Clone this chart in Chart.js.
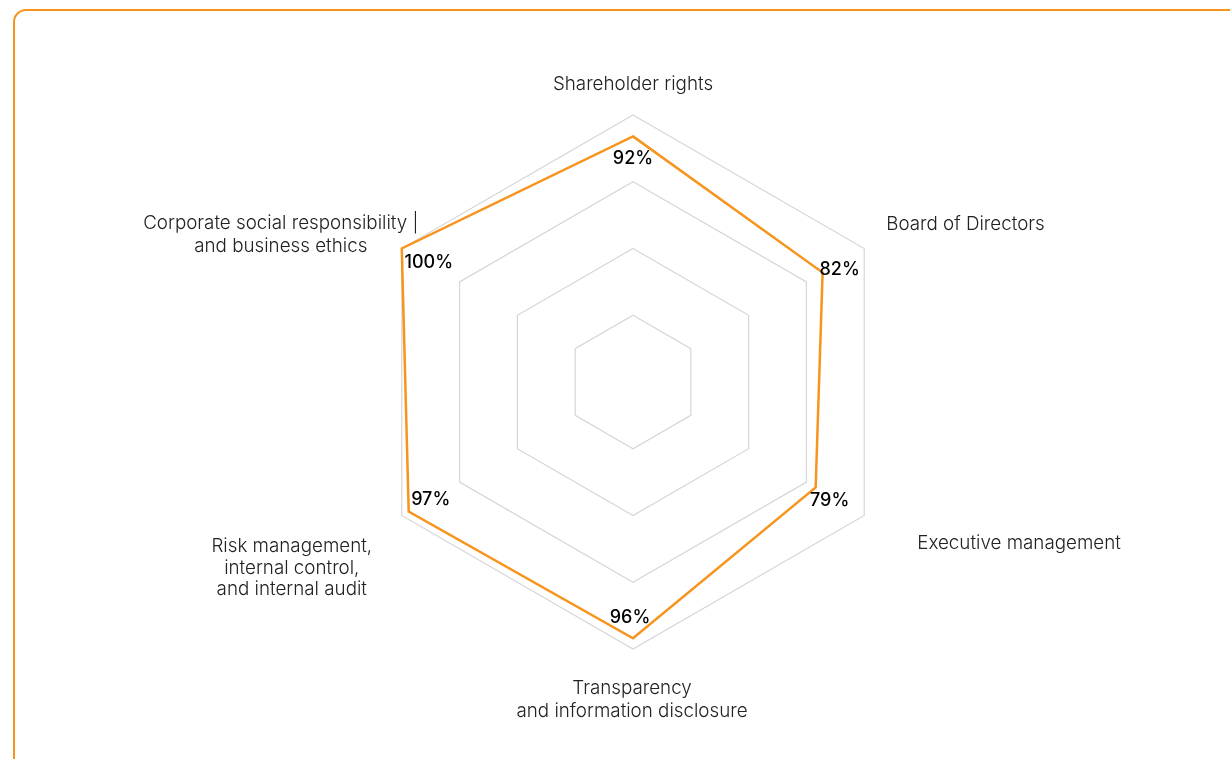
<!DOCTYPE html>
<html>
<head>
<meta charset="utf-8">
<script src="https://cdn.jsdelivr.net/npm/chart.js@4/dist/chart.umd.min.js"></script>
<style>
  html, body { margin: 0; padding: 0; background: #fff; overflow: hidden; }
  .frame {
    position: absolute; left: 13px; top: 9px;
    width: 1300px; height: 820px;
    border: 2px solid #f7941d; border-radius: 13px;
  }
  .wrap { position: absolute; left: 0; top: 0; width: 1230px; height: 759px; }
</style>
</head>
<body>
<div class="frame"></div>
<div class="wrap"><canvas id="radarGraph"></canvas></div>
<script>
/* Corporate governance assessment radar */

const categories = [
  ['Shareholder rights'],
  ['Board of Directors'],
  ['Executive management'],
  ['Transparency', 'and information disclosure'],
  ['Risk management,', 'internal control,', 'and internal audit'],
  ['Corporate social responsibility |', 'and business ethics']
];
const scores = [92, 82, 79, 96, 97, 100];
const scaleTicks = [0, 25, 50, 75, 100];

// Label placement relative to the outer vertex / data point of each axis
const axisLabelStyle = [
  { align: 'center', dx: 0, dy: -30.5, lh: 23 },
  { align: 'left', dx: 22, dy: -24.5, lh: 23 },
  { align: 'left', dx: 53, dy: 27.5, lh: 23 },
  { align: 'center', dx: -1, dy: 39, lh: 23.5 },
  { align: 'center', dx: -110, dy: 31, lh: 21.5 },
  { align: 'center', dx: -121, dy: -25, lh: 22.5 }
];
const valueLabelOffsets = [
  { dx: 0, dy: 22 },
  { dx: 17, dy: -3 },
  { dx: 14, dy: 13 },
  { dx: -3, dy: -21 },
  { dx: 22, dy: -12 },
  { dx: 27, dy: 14 }
];

const radarLabels = {
  id: 'radarLabels',
  afterDatasetsDraw(chart) {
    const scale = chart.scales.r;
    const ctx = chart.ctx;
    ctx.save();
    ctx.textBaseline = 'middle';

    // axis titles
    ctx.font = '300 18.8px Inter';
    ctx.fillStyle = '#222222';
    categories.forEach((lines, i) => {
      const p = scale.getPointPosition(i, scale.drawingArea);
      const s = axisLabelStyle[i];
      ctx.textAlign = s.align;
      lines.forEach((line, j) => {
        ctx.fillText(line, p.x + s.dx, p.y + s.dy + j * s.lh);
      });
    });

    // values
    ctx.font = '500 18px Inter';
    ctx.fillStyle = '#000000';
    ctx.textAlign = 'center';
    const meta = chart.getDatasetMeta(0);
    meta.data.forEach((pt, i) => {
      const o = valueLabelOffsets[i];
      ctx.fillText(scores[i] + '%', pt.x + o.dx, pt.y + o.dy);
    });
    ctx.restore();
  }
};

const ctx = document.getElementById('radarGraph').getContext('2d');
const radarChart = new Chart(ctx, {
  type: 'radar',
  data: {
    labels: categories,
    datasets: [
      {
        label: 'Score',
        data: scores,
        borderColor: '#f7941d',
        backgroundColor: 'rgba(0,0,0,0)',
        borderWidth: 2.5,
        fill: false,
        pointRadius: 0,
        pointHoverRadius: 0,
        borderJoinStyle: 'miter'
      }
    ]
  },
  options: {
    responsive: true,
    maintainAspectRatio: false,
    animation: false,
    layout: {
      padding: { top: 115, bottom: 110, left: 366, right: 330 }
    },
    plugins: {
      legend: { display: false },
      tooltip: { enabled: false }
    },
    scales: {
      r: {
        min: scaleTicks[0],
        max: scaleTicks[scaleTicks.length - 1],
        ticks: {
          display: false,
          stepSize: scaleTicks[1] - scaleTicks[0]
        },
        angleLines: { display: false },
        grid: {
          color: '#d6d6d6',
          lineWidth: 1.2
        },
        pointLabels: { display: false }
      }
    }
  },
  plugins: [radarLabels]
});
</script>
</body>
</html>
